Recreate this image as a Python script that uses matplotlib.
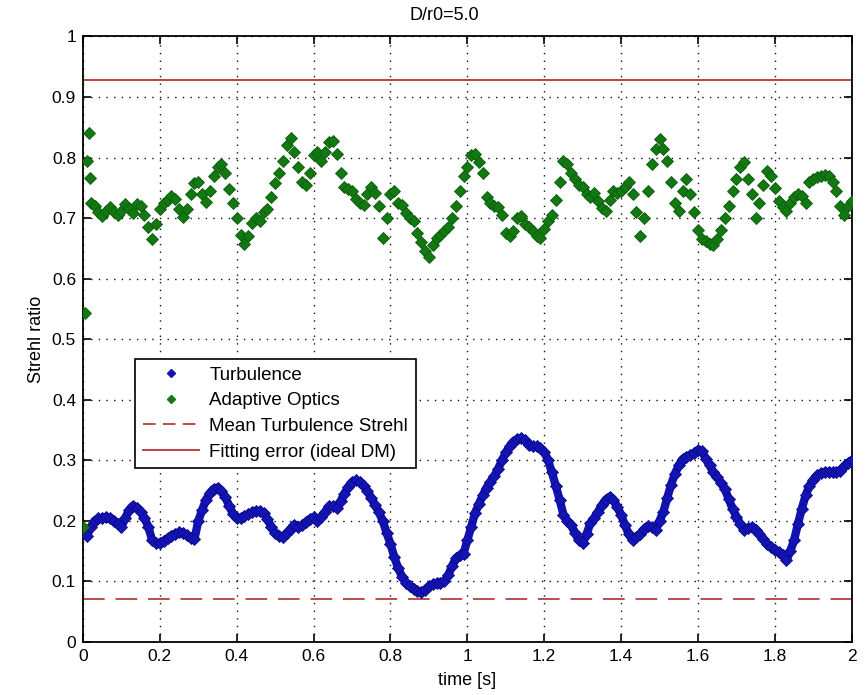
import numpy as np
import matplotlib
matplotlib.use("Agg")
import matplotlib.pyplot as plt
from matplotlib.lines import Line2D
from matplotlib.ticker import FuncFormatter, MultipleLocator

plt.rcParams['font.family'] = ['Liberation Sans', 'DejaVu Sans']

# ---- data ----
title = "D/r0=5.0"
dt = 0.01

# turbulence Strehl, sampled every 0.01 s from t = 0 to t = 2
turbulence = [
    0.185, 0.175, 0.190, 0.200, 0.204, 0.205, 0.206, 0.204, 0.200, 0.195,
    0.190, 0.205, 0.218, 0.225, 0.222, 0.215, 0.205, 0.190, 0.168, 0.163,
    0.163, 0.167, 0.171, 0.175, 0.179, 0.181, 0.180, 0.177, 0.172, 0.170,
    0.200, 0.218, 0.235, 0.246, 0.253, 0.255, 0.250, 0.240, 0.225, 0.212,
    0.204, 0.205, 0.208, 0.211, 0.214, 0.217, 0.216, 0.213, 0.203, 0.190,
    0.180, 0.175, 0.174, 0.180, 0.187, 0.194, 0.190, 0.193, 0.198, 0.203,
    0.206, 0.200, 0.207, 0.215, 0.224, 0.224, 0.222, 0.232, 0.245, 0.256,
    0.264, 0.267, 0.264, 0.258, 0.249, 0.238, 0.226, 0.214, 0.200, 0.180,
    0.162, 0.140, 0.122, 0.108, 0.098, 0.092, 0.087, 0.084, 0.082, 0.086,
    0.092, 0.095, 0.097, 0.098, 0.100, 0.110, 0.125, 0.138, 0.143, 0.146,
    0.168, 0.190, 0.213, 0.228, 0.242, 0.255, 0.265, 0.274, 0.286, 0.300,
    0.313, 0.323, 0.331, 0.335, 0.337, 0.333, 0.325, 0.323, 0.323, 0.320,
    0.314, 0.300, 0.280, 0.258, 0.235, 0.210, 0.200, 0.193, 0.180, 0.168,
    0.163, 0.178, 0.196, 0.205, 0.215, 0.226, 0.235, 0.240, 0.235, 0.223,
    0.210, 0.193, 0.178, 0.168, 0.173, 0.179, 0.186, 0.192, 0.190, 0.185,
    0.200, 0.215, 0.238, 0.260, 0.278, 0.292, 0.302, 0.306, 0.309, 0.312,
    0.317, 0.315, 0.303, 0.292, 0.280, 0.272, 0.263, 0.252, 0.236, 0.220,
    0.207, 0.195, 0.185, 0.188, 0.190, 0.185, 0.179, 0.170, 0.162, 0.157,
    0.152, 0.148, 0.143, 0.135, 0.150, 0.168, 0.195, 0.220, 0.242, 0.258,
    0.268, 0.275, 0.279, 0.280, 0.281, 0.281, 0.281, 0.282, 0.290, 0.295,
    0.300,
]

# adaptive optics: start-up transient, then every 0.01 s from t = 0.02
ao_start_t = [0.0, 0.006, 0.010, 0.015, 0.019]
ao_start = [0.190, 0.543, 0.795, 0.840, 0.767]
adaptive = [
    0.725, 0.720, 0.710, 0.703, 0.712, 0.718, 0.710, 0.705,
    0.712, 0.724, 0.715, 0.708, 0.724, 0.720, 0.705, 0.685, 0.665, 0.690,
    0.715, 0.725, 0.730, 0.737, 0.732, 0.715, 0.702, 0.715, 0.740, 0.758,
    0.760, 0.740, 0.726, 0.745, 0.770, 0.785, 0.789, 0.775, 0.748, 0.725,
    0.700, 0.672, 0.657, 0.670, 0.692, 0.700, 0.695, 0.710, 0.715, 0.735,
    0.758, 0.775, 0.795, 0.820, 0.832, 0.810, 0.785, 0.760, 0.755, 0.775,
    0.805, 0.810, 0.795, 0.810, 0.825, 0.828, 0.806, 0.775, 0.752, 0.748,
    0.745, 0.732, 0.725, 0.722, 0.740, 0.752, 0.742, 0.720, 0.668, 0.700,
    0.740, 0.745, 0.725, 0.722, 0.708, 0.700, 0.695, 0.675, 0.660, 0.645,
    0.636, 0.655, 0.668, 0.672, 0.678, 0.685, 0.700, 0.720, 0.745, 0.770,
    0.785, 0.805, 0.806, 0.792, 0.775, 0.735, 0.725, 0.720, 0.718, 0.705,
    0.675, 0.670, 0.678, 0.700, 0.703, 0.690, 0.685, 0.678, 0.670, 0.668,
    0.682, 0.695, 0.705, 0.730, 0.760, 0.795, 0.790, 0.775, 0.765, 0.755,
    0.752, 0.740, 0.735, 0.742, 0.728, 0.716, 0.712, 0.730, 0.745, 0.742,
    0.745, 0.752, 0.760, 0.740, 0.710, 0.670, 0.700, 0.745, 0.790, 0.815,
    0.830, 0.815, 0.795, 0.760, 0.725, 0.712, 0.745, 0.765, 0.740, 0.710,
    0.680, 0.665, 0.662, 0.658, 0.656, 0.665, 0.680, 0.700, 0.720, 0.745,
    0.765, 0.785, 0.793, 0.765, 0.740, 0.700, 0.725, 0.755, 0.778, 0.770,
    0.750, 0.728, 0.718, 0.712, 0.725, 0.735, 0.740, 0.737, 0.725, 0.760,
    0.765, 0.768, 0.770, 0.772, 0.770, 0.760, 0.745, 0.720, 0.705, 0.720,
    0.728,
]

mean_turbulence_strehl = 0.071
fitting_error_strehl = 0.928

blue = '#1414b4'
green = '#127812'
red_solid = '#bb3035'
red_dash = '#b4403c'

t_turb = np.arange(len(turbulence)) * dt
t_ao = np.concatenate([ao_start_t, 0.02 + np.arange(len(adaptive)) * dt])
ao_all = np.concatenate([ao_start, adaptive])

fig = plt.figure(figsize=(8.67, 6.95), dpi=100)
ax = fig.add_axes([0.0957, 0.0763, 0.8867, 0.8712])

# turbulence: thick trail of diamonds
ax.plot(t_turb, turbulence, color=blue, lw=6, solid_capstyle='round',
        solid_joinstyle='round', zorder=3)
ax.plot(t_turb, turbulence, ls='none', marker='D', ms=6, color=blue,
        mec='#0a0a8c', mew=0.6, zorder=3)
ax.plot(t_ao, ao_all, ls='none', marker='D', ms=6, color=green,
        mec='#0c5c0c', mew=0.6, zorder=3)

ax.axhline(mean_turbulence_strehl, color=red_dash, lw=1.3, ls=(0, (12, 6)), zorder=2)
ax.axhline(fitting_error_strehl, color=red_solid, lw=1.3, zorder=2)

ax.set_xlim(0, 2)
ax.set_ylim(0, 1)
ax.xaxis.set_major_locator(MultipleLocator(0.2))
ax.yaxis.set_major_locator(MultipleLocator(0.1))
fmt = FuncFormatter(lambda v, p: f"{v:g}")
ax.xaxis.set_major_formatter(fmt)
ax.yaxis.set_major_formatter(fmt)

ax.grid(True, color='#111111', lw=1.0, ls=(0, (1, 4.5)))
ax.tick_params(direction='in', length=6, width=1.2, top=True, right=True,
               labelsize=12.5, pad=5)
for s in ax.spines.values():
    s.set_linewidth(1.3)

ax.set_title(title, fontsize=13, pad=12, x=0.47)
ax.set_xlabel("time [s]", fontsize=13, labelpad=6)
ax.set_ylabel("Strehl ratio", fontsize=13, labelpad=5)

handles = [
    Line2D([], [], ls='none', marker='D', ms=4, color=blue, label='Turbulence'),
    Line2D([], [], ls='none', marker='D', ms=4, color=green, label='Adaptive Optics'),
    Line2D([], [], color=red_dash, lw=1.3, ls=(0, (7, 4)), label='Mean Turbulence Strehl'),
    Line2D([], [], color=red_solid, lw=1.3, label='Fitting error (ideal DM)'),
]
leg = ax.legend(handles=handles, loc='upper left', bbox_to_anchor=(0.068, 0.467),
                fontsize=13.5, frameon=True, fancybox=False, framealpha=1,
                edgecolor='black', borderpad=0.4, labelspacing=0.45,
                handlelength=3.0, handletextpad=0.55, borderaxespad=0)
leg.get_frame().set_linewidth(1.2)

fig.savefig('out.png', dpi=100, facecolor='white')
